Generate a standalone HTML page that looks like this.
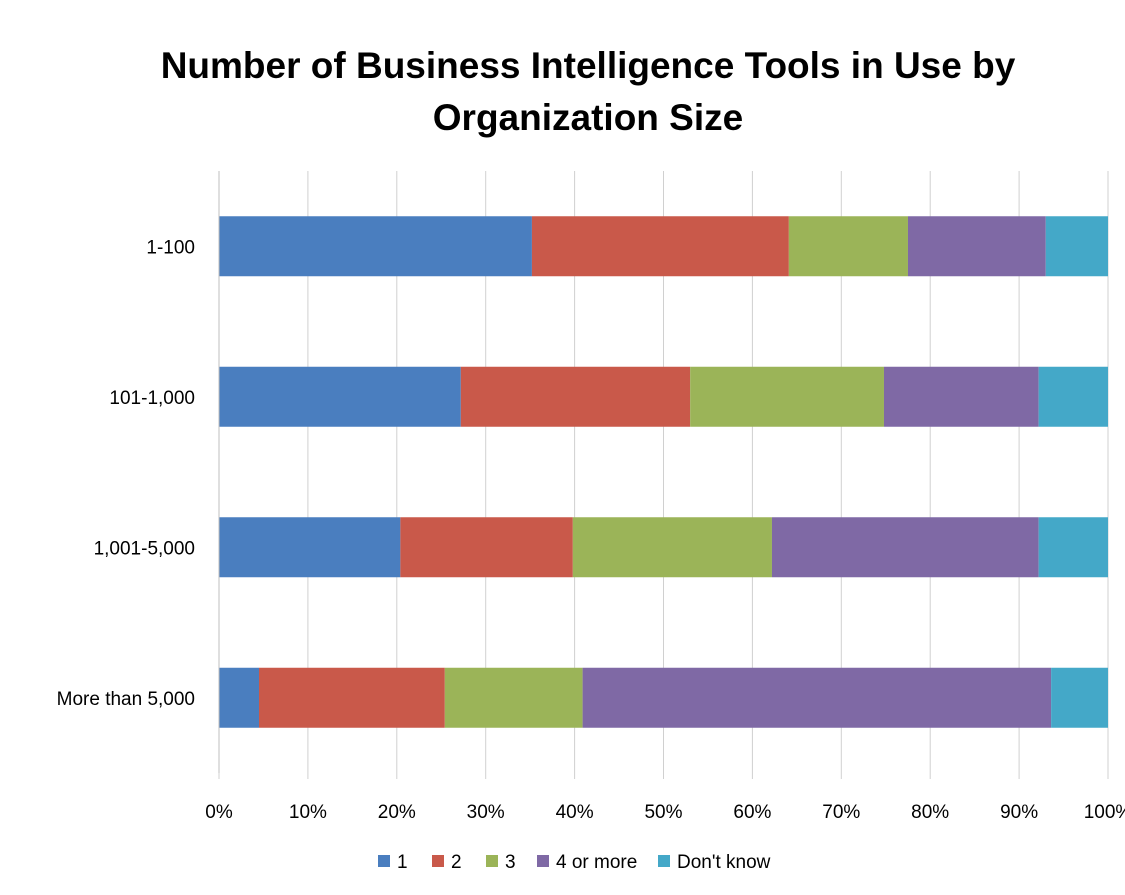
<!DOCTYPE html>
<html><head><meta charset="utf-8"><style>
html,body{margin:0;padding:0;background:#fff;overflow:hidden}
svg{display:block;font-family:"Liberation Sans",Arial,sans-serif}
</style></head><body>
<svg id="chart" width="1125" height="895" viewBox="0 0 1125 895">
<text x="588" y="78" text-anchor="middle" font-size="37" font-weight="bold" fill="#000">Number of Business Intelligence Tools in Use by</text>
<text x="588" y="130" text-anchor="middle" font-size="37" font-weight="bold" fill="#000">Organization Size</text>
<g id="grid"></g><g id="bars"></g><g id="axes"></g><g id="legend"></g>
</svg>
<script>
const categories = ["1-100","101-1,000","1,001-5,000","More than 5,000"];
const seriesNames = ["1","2","3","4 or more","Don't know"];
const s1 = [35.2, 27.2, 20.4, 4.5];
const s2 = [28.9, 25.8, 19.4, 20.9];
const s3 = [13.4, 21.8, 22.4, 15.5];
const s4 = [15.5, 17.4, 30.0, 52.7];
const s5 = [7.0, 7.8, 7.8, 6.4];
const tickValues = [0,10,20,30,40,50,60,70,80,90,100];
const tickLabels = ["0%","10%","20%","30%","40%","50%","60%","70%","80%","90%","100%"];
const colors = ["#4a7ebf","#c9594a","#9bb458","#7f69a5","#44a8c8"];
const series = [s1,s2,s3,s4,s5];
const NS = "http://www.w3.org/2000/svg";
const X0 = 219, X1 = 1108, TOP = 171, BOT = 773;
const bandH = (BOT - TOP) / categories.length, barH = 60;
function x(v){ return X0 + (X1 - X0) * v / 100; }
function yBand(i){ return TOP + bandH * i + bandH/2; }
function mk(tag, attrs, parent){ const e = document.createElementNS(NS, tag); for (const k in attrs) e.setAttribute(k, attrs[k]); parent.appendChild(e); return e; }
const grid = document.getElementById('grid'), bars = document.getElementById('bars'), axes = document.getElementById('axes'), legend = document.getElementById('legend');
tickValues.forEach((t, i) => {
  const g = mk('line', {x1:x(t), x2:x(t), y1:TOP, y2:BOT+6, stroke:'#d0d0d0', 'stroke-width':1}, grid);
  
  
  const lb = mk('text', {x:x(t), y:818, 'text-anchor':'middle', 'font-size':19, fill:'#000'}, axes);
  lb.textContent = tickLabels[i];
  
  
});
const ax = mk('line', {x1:X0, x2:X0, y1:TOP, y2:BOT, stroke:'#bfbfbf', 'stroke-width':1}, axes);


categories.forEach((c, i) => {
  const yc = yBand(i);
  let acc = 0;
  series.forEach((s, j) => {
    const r = mk('rect', {x:x(acc), y:yc - barH/2, width:x(acc + s[i]) - x(acc), height:barH, fill:colors[j]}, bars);
    
    
    acc += s[i];
  });
  const t = mk('text', {x:195, y:yc + 7, 'text-anchor':'end', 'font-size':19, fill:'#000'}, axes);
  t.textContent = c;
  
  
});
const legX = [378, 432, 486, 537, 658];
seriesNames.forEach((n, j) => {
  const r = mk('rect', {x:legX[j], y:855, width:12, height:12, fill:colors[j]}, legend);
  
  
  const t = mk('text', {x:legX[j] + 19, y:868, 'font-size':19, fill:'#000'}, legend);
  t.textContent = n;
  
  
});
</script>
</body></html>
